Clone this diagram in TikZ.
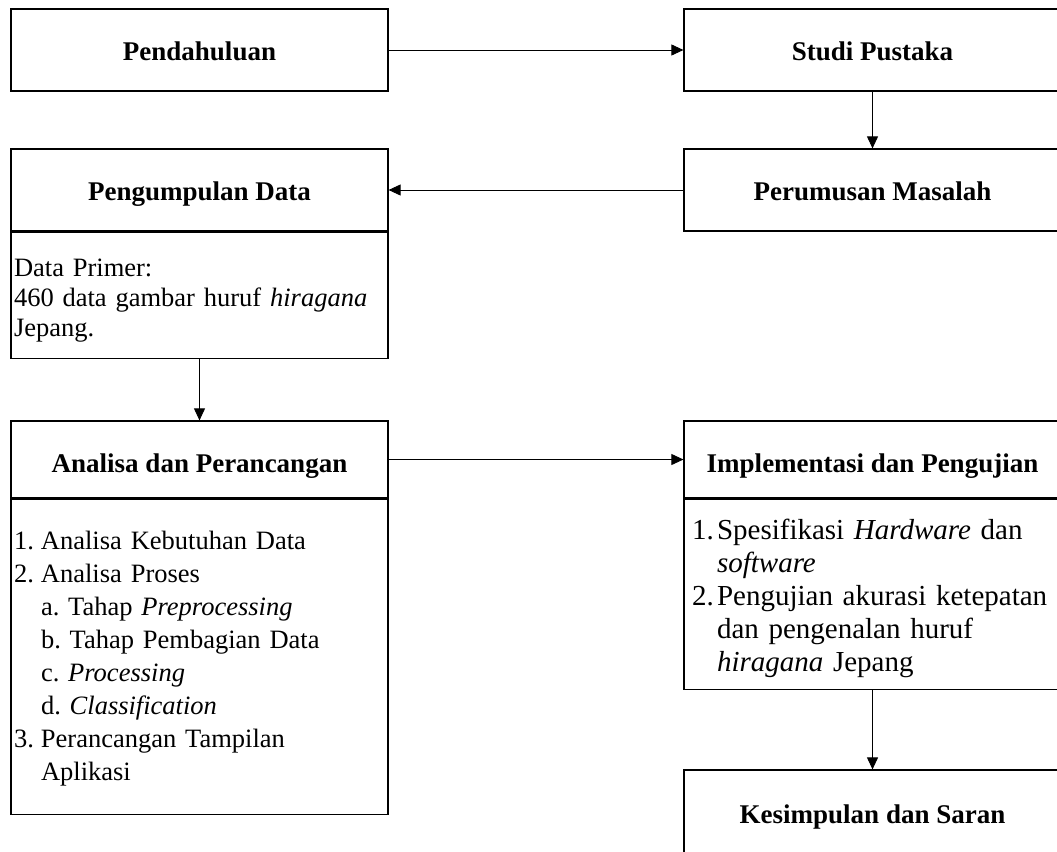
\documentclass[tikz,border=0pt]{standalone}
\usepackage{fontspec}
\setmainfont{Liberation Serif}
\usetikzlibrary{arrows.meta}
\frenchspacing
\newcommand{\nomor}[1]{\makebox[27pt][l]{#1}}
\newcommand{\sisip}{\hspace*{27pt}}
\newcommand{\atas}[1]{\rule{0pt}{#1}}

\begin{document}
\begin{tikzpicture}[x=1pt,y=-1pt,
    kotak/.style={draw,line width=1.2pt,rectangle,inner sep=0pt,minimum width=377pt,text height=20pt,text depth=0pt,font=\fontsize{27}{33}\selectfont\bfseries},
    isi/.style={draw,line width=1.2pt,rectangle,anchor=north,inner xsep=3pt,inner ysep=0pt,minimum width=377pt,text width=371pt,align=left,font=\fontsize{26.5}{33}\selectfont},
    panah/.style={-{Triangle[length=12pt,width=11pt]},line width=0.9pt}]
    \useasboundingbox (0,0) rectangle (1057,851);
    \fill[white] (0,0) rectangle (1057,851);

    \node[kotak,minimum height=82pt] (pendahuluan) at (199.5,50) {Pendahuluan};
    \node[kotak,minimum height=82pt] (studi) at (872.5,50) {Studi Pustaka};
    \node[kotak,minimum height=82pt] (perumusan) at (872.5,190) {Perumusan Masalah};
    \node[kotak,minimum height=82pt] (pengumpulan) at (199.5,190) {Pengumpulan Data};
    \node[isi,minimum height=126pt,font=\fontsize{26.5}{30}\selectfont] (dataprimer) at (pengumpulan.south)
        {\atas{29pt}Data Primer:\\ 460 data gambar huruf \textit{hiragana}\\ Jepang.};

    \node[kotak,minimum height=77pt,text height=25pt] (analisa) at (199.5,459.5) {Analisa dan Perancangan};
    \node[isi,minimum height=315pt] (analisaisi) at (analisa.south)
        {\atas{23pt}\nomor{1.}Analisa Kebutuhan Data\\
         \nomor{2.}Analisa Proses\\
         \sisip a. Tahap \textit{Preprocessing}\\
         \sisip b. Tahap Pembagian Data\\
         \sisip c. \textit{Processing}\\
         \sisip d. \textit{Classification}\\
         \nomor{3.}Perancangan Tampilan\\
         \sisip Aplikasi};

    \node[kotak,minimum height=77pt,text height=25pt] (implementasi) at (872.5,459.5) {Implementasi dan Pengujian};
    \node[isi,minimum height=190pt,inner xsep=8pt,text width=361pt,font=\fontsize{29}{33}\selectfont] (implementasiisi) at (implementasi.south)
        {\atas{29pt}\makebox[25pt][l]{1.}Spesifikasi \textit{Hardware} dan\\
         \hspace*{25pt}\textit{software}\\
         \makebox[25pt][l]{2.}Pengujian akurasi ketepatan\\
         \hspace*{25pt}dan pengenalan huruf\\
         \hspace*{25pt}\textit{hiragana} Jepang};

    \node[kotak,minimum height=86pt] (kesimpulan) at (872.5,813) {Kesimpulan dan Saran};

    \draw[panah] (pendahuluan) -- (studi);
    \draw[panah] (studi) -- (perumusan);
    \draw[panah] (perumusan) -- (pengumpulan);
    \draw[panah] (dataprimer) -- (analisa);
    \draw[panah] (analisa) -- (implementasi);
    \draw[panah] (implementasiisi) -- (kesimpulan);
\end{tikzpicture}
\end{document}
